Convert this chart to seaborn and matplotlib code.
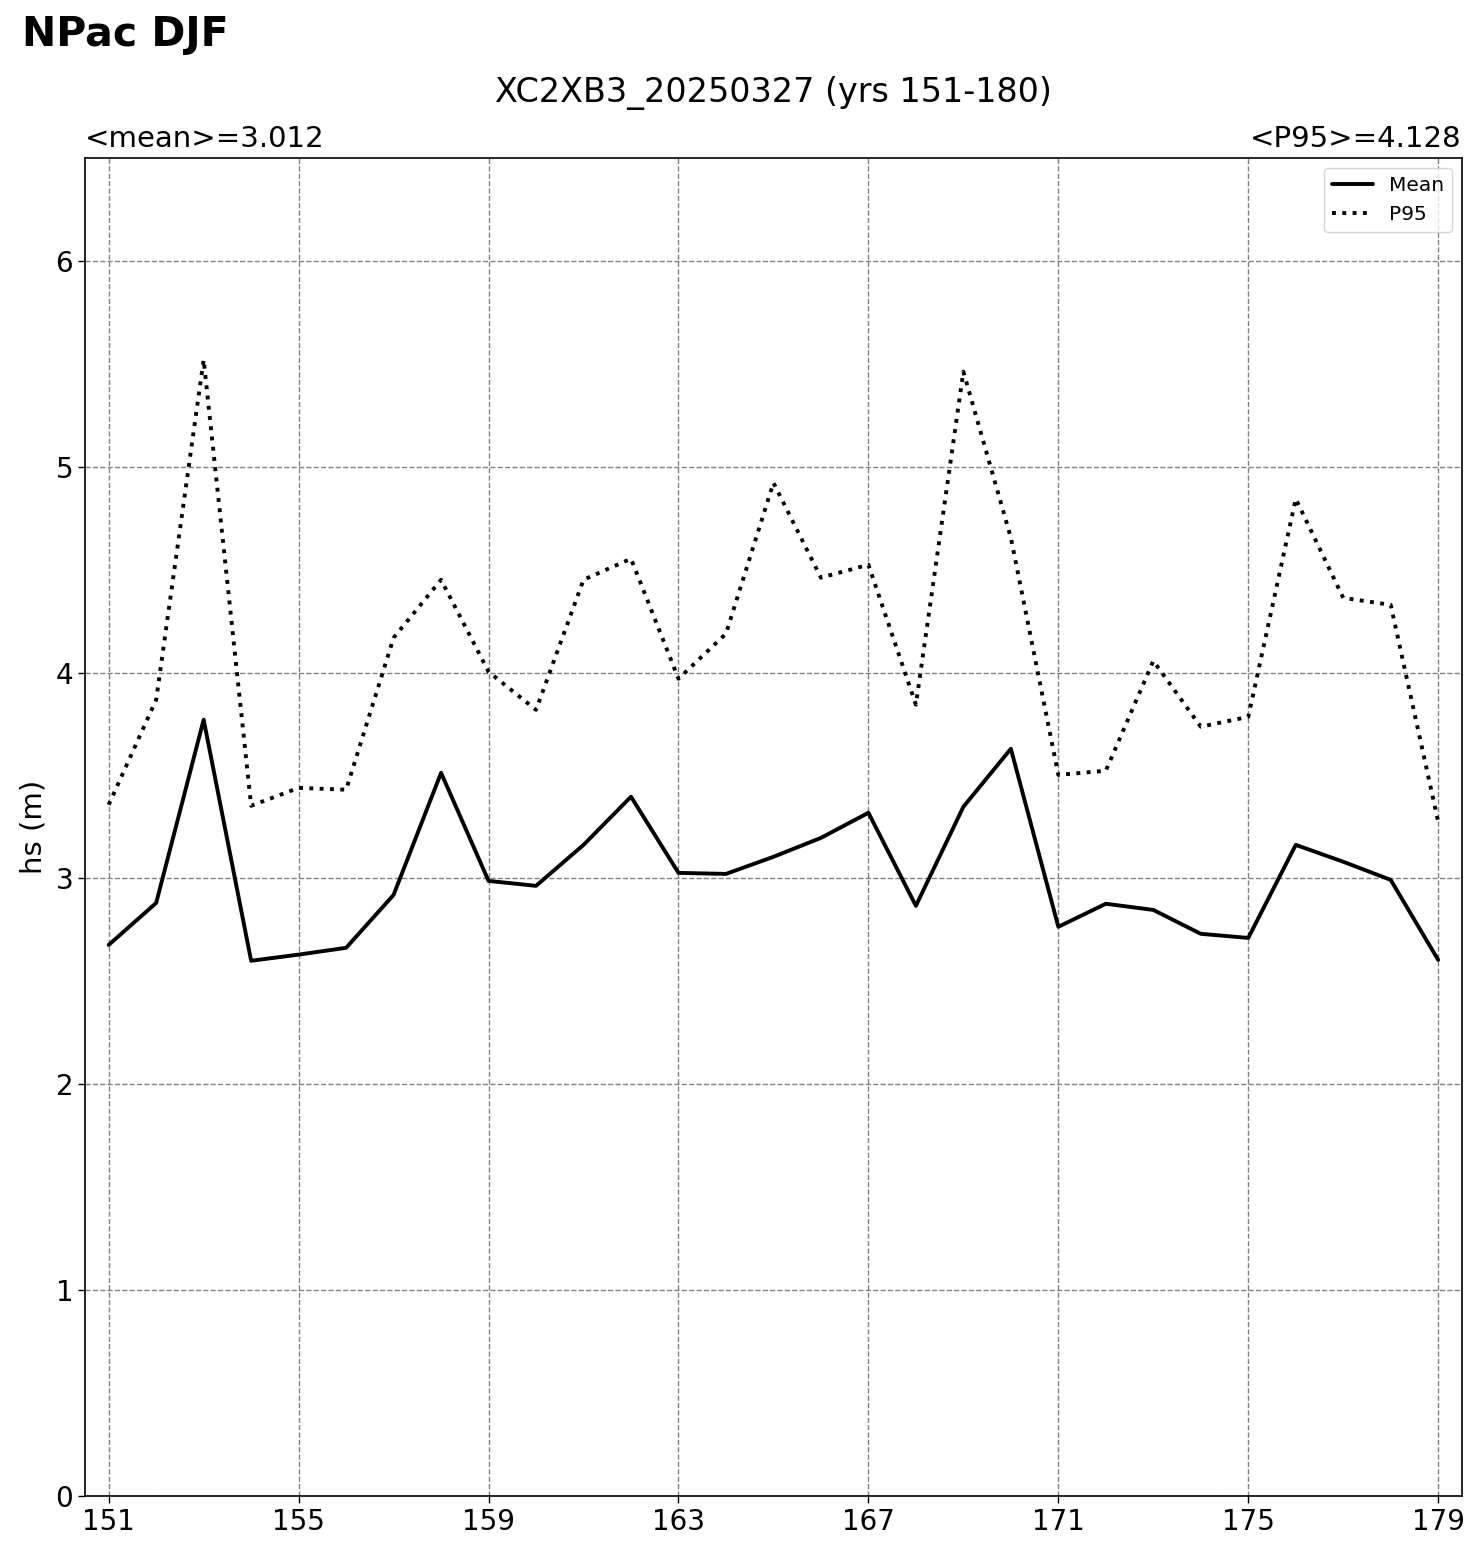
import numpy as np
import pandas as pd
import matplotlib
matplotlib.use('Agg')
import matplotlib.pyplot as plt
import seaborn as sns

# yearly DJF significant wave height, North Pacific
years = list(range(151, 180))
hs_mean = [2.677, 2.881, 3.771, 2.600, 2.630, 2.663, 2.920, 3.513, 2.988, 2.964,
           3.163, 3.397, 3.027, 3.022, 3.105, 3.197, 3.319, 2.867, 3.348, 3.630,
           2.765, 2.877, 2.847, 2.731, 2.711, 3.163, 3.081, 2.993, 2.604]
hs_p95 = [3.358, 3.868, 5.520, 3.353, 3.440, 3.431, 4.169, 4.451, 4.004, 3.819,
          4.451, 4.553, 3.970, 4.189, 4.922, 4.461, 4.524, 3.844, 5.462, 4.655,
          3.503, 3.523, 4.057, 3.737, 3.785, 4.844, 4.363, 4.329, 3.275]
xticks = [151, 155, 159, 163, 167, 171, 175, 179]
region = 'NPac DJF'
run_title = 'XC2XB3_20250327 (yrs 151-180)'
mean_label = '<mean>=3.012'
p95_label = '<P95>=4.128'

df = pd.DataFrame({'year': years, 'Mean': hs_mean, 'P95': hs_p95})

sns.set_style('ticks')
plt.rcParams['font.family'] = ['DejaVu Sans']
plt.rcParams['text.color'] = 'k'
plt.rcParams['axes.labelcolor'] = 'k'
plt.rcParams['xtick.color'] = 'k'
plt.rcParams['ytick.color'] = 'k'

fig = plt.figure(figsize=(14.8, 15.53), dpi=100)
ax = fig.add_axes([0.0574, 0.0367, 0.9304, 0.8616])

sns.lineplot(data=df, x='year', y='Mean', color='k', linewidth=2.8, label='Mean', ax=ax)
sns.lineplot(data=df, x='year', y='P95', color='k', linewidth=2.8, linestyle=':', label='P95', ax=ax)

ax.set_xlim(150.5, 179.5)
ax.set_ylim(0, 6.5)
ax.set_xticks(xticks)
ax.set_yticks([0, 1, 2, 3, 4, 5, 6])
ax.grid(True, color='gray', linestyle='--', linewidth=1.0)
ax.tick_params(labelsize=20, length=5, width=1, color='k')
ax.set_xlabel('')
ax.set_ylabel('hs (m)', fontsize=21, labelpad=6)
for sp in ax.spines.values():
    sp.set_color('k')
    sp.set_linewidth(1.2)

ax.set_title(mean_label, loc='left', fontsize=21, pad=8)
ax.set_title(p95_label, loc='right', fontsize=21, pad=8)
ax.text(0.5, 1.042, run_title, transform=ax.transAxes, ha='center', va='baseline', fontsize=24)
fig.text(0.015, 0.9705, region, ha='left', va='baseline', fontsize=29.5, fontweight='bold')

leg = ax.legend(loc='upper right', fontsize=14.5, frameon=True)

fig.savefig('out.png', dpi=100)
